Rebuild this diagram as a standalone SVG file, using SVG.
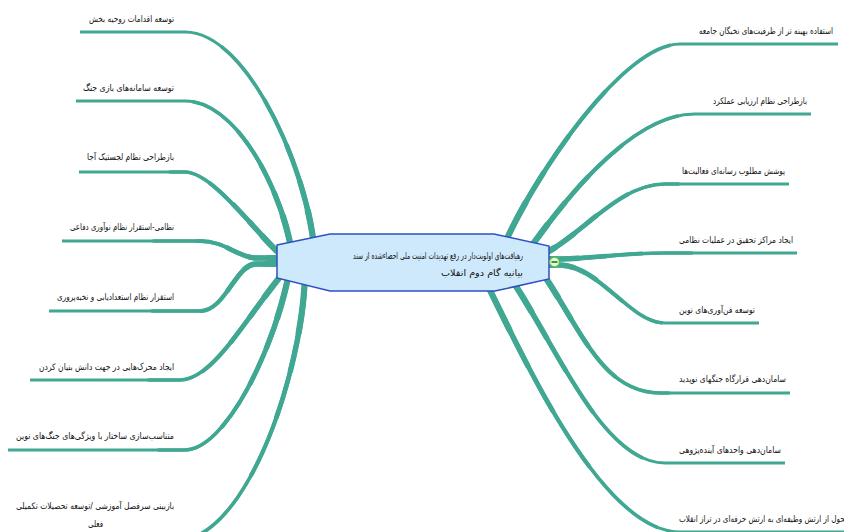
<svg xmlns="http://www.w3.org/2000/svg" xmlns:xlink="http://www.w3.org/1999/xlink" width="844" height="532" viewBox="0 0 844 532">
<style>
.br{fill:none;stroke:#40a892;stroke-linejoin:round}
.w1{stroke-width:3;stroke-linecap:butt}
.w2{stroke-width:3.6;stroke-dasharray:62 200;stroke-linecap:round}
.w3{stroke-width:4.2;stroke-dasharray:44 200;stroke-linecap:round}
.w4{stroke-width:4.8;stroke-dasharray:31 200;stroke-linecap:round}
.w5{stroke-width:5.4;stroke-dasharray:21 200;stroke-linecap:round}
.w6{stroke-width:6.2;stroke-dasharray:13 200;stroke-linecap:round}
.lbl{font-family:"DejaVu Sans",sans-serif;font-size:9px;fill:#111;text-anchor:end}
.ctxt{font-size:9.5px}
.ctr{fill:#cde9fb;stroke:#2f4fc4;stroke-width:1.5}
</style>
<defs>
<path id="pL1" class="br" pathLength="100" d="M315 260 C312 180 250 32 185 32 L80 32"/>
<path id="pL2" class="br" pathLength="100" d="M292 255 C285 200 240 101 185 101 L76 101"/>
<path id="pL3" class="br" pathLength="100" d="M285 258 C265 245 215 172 185 172 L79 172"/>
<path id="pL4" class="br" pathLength="100" d="M300 258 L255 258 C235 256 225 241 200 241 L62 241"/>
<path id="pL5" class="br" pathLength="100" d="M300 264 L255 264 C235 266 225 311 200 311 L49 311"/>
<path id="pL6" class="br" pathLength="100" d="M290 265 C250 310 215 380 180 380 L30 380"/>
<path id="pL7" class="br" pathLength="100" d="M290 268 C275 350 225 450 185 450 L8 450"/>
<path id="pL8" class="br" pathLength="100" d="M305 270 C305 360 250 541 175 541 L8 541"/>
<path id="pR1" class="br" pathLength="100" d="M500 255 C525 190 620 44 680 44 L838 44"/>
<path id="pR2" class="br" pathLength="100" d="M520 262 C540 235 620 114 695 114 L811 114"/>
<path id="pR3" class="br" pathLength="100" d="M520 262 C570 255 610 184 665 184 L789 184"/>
<path id="pR4" class="br" pathLength="100" d="M520 259 L560 259 C600 258 620 253 665 253 L797 253"/>
<path id="pR5" class="br" pathLength="100" d="M520 265 L560 265 C600 266 630 323 665 323 L759 323"/>
<path id="pR6" class="br" pathLength="100" d="M535 262 C580 325 600 393 660 393 L790 393"/>
<path id="pR7" class="br" pathLength="100" d="M505 270 C552 335 600 463 665 463 L785 463"/>
<path id="pR8" class="br" pathLength="100" d="M480 270 C520 350 600 532 680 532 L850 532"/>
</defs>
<g id="connectors">
<use xlink:href="#pL1" class="w1"/><use xlink:href="#pL1" class="w2"/><use xlink:href="#pL1" class="w3"/><use xlink:href="#pL1" class="w4"/><use xlink:href="#pL1" class="w5"/><use xlink:href="#pL1" class="w6"/>
<use xlink:href="#pL2" class="w1"/><use xlink:href="#pL2" class="w2"/><use xlink:href="#pL2" class="w3"/><use xlink:href="#pL2" class="w4"/><use xlink:href="#pL2" class="w5"/><use xlink:href="#pL2" class="w6"/>
<use xlink:href="#pL3" class="w1"/><use xlink:href="#pL3" class="w2"/><use xlink:href="#pL3" class="w3"/><use xlink:href="#pL3" class="w4"/><use xlink:href="#pL3" class="w5"/><use xlink:href="#pL3" class="w6"/>
<use xlink:href="#pL4" class="w1"/><use xlink:href="#pL4" class="w2"/><use xlink:href="#pL4" class="w3"/><use xlink:href="#pL4" class="w4"/><use xlink:href="#pL4" class="w5"/><use xlink:href="#pL4" class="w6"/>
<use xlink:href="#pL5" class="w1"/><use xlink:href="#pL5" class="w2"/><use xlink:href="#pL5" class="w3"/><use xlink:href="#pL5" class="w4"/><use xlink:href="#pL5" class="w5"/><use xlink:href="#pL5" class="w6"/>
<use xlink:href="#pL6" class="w1"/><use xlink:href="#pL6" class="w2"/><use xlink:href="#pL6" class="w3"/><use xlink:href="#pL6" class="w4"/><use xlink:href="#pL6" class="w5"/><use xlink:href="#pL6" class="w6"/>
<use xlink:href="#pL7" class="w1"/><use xlink:href="#pL7" class="w2"/><use xlink:href="#pL7" class="w3"/><use xlink:href="#pL7" class="w4"/><use xlink:href="#pL7" class="w5"/><use xlink:href="#pL7" class="w6"/>
<use xlink:href="#pL8" class="w1"/><use xlink:href="#pL8" class="w2"/><use xlink:href="#pL8" class="w3"/><use xlink:href="#pL8" class="w4"/><use xlink:href="#pL8" class="w5"/><use xlink:href="#pL8" class="w6"/>
<use xlink:href="#pR1" class="w1"/><use xlink:href="#pR1" class="w2"/><use xlink:href="#pR1" class="w3"/><use xlink:href="#pR1" class="w4"/><use xlink:href="#pR1" class="w5"/><use xlink:href="#pR1" class="w6"/>
<use xlink:href="#pR2" class="w1"/><use xlink:href="#pR2" class="w2"/><use xlink:href="#pR2" class="w3"/><use xlink:href="#pR2" class="w4"/><use xlink:href="#pR2" class="w5"/><use xlink:href="#pR2" class="w6"/>
<use xlink:href="#pR3" class="w1"/><use xlink:href="#pR3" class="w2"/><use xlink:href="#pR3" class="w3"/><use xlink:href="#pR3" class="w4"/><use xlink:href="#pR3" class="w5"/><use xlink:href="#pR3" class="w6"/>
<use xlink:href="#pR4" class="w1"/><use xlink:href="#pR4" class="w2"/><use xlink:href="#pR4" class="w3"/><use xlink:href="#pR4" class="w4"/><use xlink:href="#pR4" class="w5"/><use xlink:href="#pR4" class="w6"/>
<use xlink:href="#pR5" class="w1"/><use xlink:href="#pR5" class="w2"/><use xlink:href="#pR5" class="w3"/><use xlink:href="#pR5" class="w4"/><use xlink:href="#pR5" class="w5"/><use xlink:href="#pR5" class="w6"/>
<use xlink:href="#pR6" class="w1"/><use xlink:href="#pR6" class="w2"/><use xlink:href="#pR6" class="w3"/><use xlink:href="#pR6" class="w4"/><use xlink:href="#pR6" class="w5"/><use xlink:href="#pR6" class="w6"/>
<use xlink:href="#pR7" class="w1"/><use xlink:href="#pR7" class="w2"/><use xlink:href="#pR7" class="w3"/><use xlink:href="#pR7" class="w4"/><use xlink:href="#pR7" class="w5"/><use xlink:href="#pR7" class="w6"/>
<use xlink:href="#pR8" class="w1"/><use xlink:href="#pR8" class="w2"/><use xlink:href="#pR8" class="w3"/><use xlink:href="#pR8" class="w4"/><use xlink:href="#pR8" class="w5"/><use xlink:href="#pR8" class="w6"/>
</g>
<g id="center">
<polygon class="ctr" points="277,245 330,234 494,234 549,246 549,279 495,291 330,291 277,278"/>
<text class="lbl ctxt" x="523" y="258.5" textLength="170" lengthAdjust="spacingAndGlyphs">رهیافت‌های اولویت‌دار در رفع تهدیدات امنیت ملی احصاءشده از سند</text>
<text class="lbl ctxt" x="523" y="276" textLength="82" lengthAdjust="spacingAndGlyphs">بیانیه گام دوم انقلاب</text>
<circle cx="554.5" cy="262" r="5" fill="#e6f6df" stroke="#5cb84a" stroke-width="1.3"/>
<line x1="551.5" y1="262" x2="557.5" y2="262" stroke="#3b9a2e" stroke-width="2"/>
</g>
<g id="n-L1"><text class="lbl" x="174" y="21.5" textLength="85" lengthAdjust="spacingAndGlyphs">توسعه اقدامات روحیه بخش</text></g>
<g id="n-L2"><text class="lbl" x="174" y="90.5" textLength="91" lengthAdjust="spacingAndGlyphs">توسعه سامانه‌های بازی جنگ</text></g>
<g id="n-L3"><text class="lbl" x="174" y="160" textLength="87" lengthAdjust="spacingAndGlyphs">بازطراحی نظام لجستیک آجا</text></g>
<g id="n-L4"><text class="lbl" x="174" y="230" textLength="104" lengthAdjust="spacingAndGlyphs">نظامی-استقرار نظام نوآوری دفاعی</text></g>
<g id="n-L5"><text class="lbl" x="174" y="300" textLength="117" lengthAdjust="spacingAndGlyphs">استقرار نظام استعدادیابی و نخبه‌پروری</text></g>
<g id="n-L6"><text class="lbl" x="174" y="370" textLength="135" lengthAdjust="spacingAndGlyphs">ایجاد محرک‌هایی در جهت دانش بنیان کردن</text></g>
<g id="n-L7"><text class="lbl" x="174" y="439" textLength="158" lengthAdjust="spacingAndGlyphs">متناسب‌سازی ساختار با ویژگی‌های جنگ‌های نوین</text></g>
<g id="n-L8"><text class="lbl" x="174" y="509" textLength="158" lengthAdjust="spacingAndGlyphs">بازبینی سرفصل آموزشی /توسعه تحصیلات تکمیلی</text><text class="lbl" x="103" y="527" textLength="15" lengthAdjust="spacingAndGlyphs">فعلی</text></g>
<g id="n-R1"><text class="lbl" x="833" y="34" textLength="134" lengthAdjust="spacingAndGlyphs">استفاده بهینه تر از ظرفیت‌های نخبگان جامعه</text></g>
<g id="n-R2"><text class="lbl" x="807" y="104" textLength="94" lengthAdjust="spacingAndGlyphs">بازطراحی نظام ارزیابی عملکرد</text></g>
<g id="n-R3"><text class="lbl" x="785" y="174" textLength="103" lengthAdjust="spacingAndGlyphs">پوشش مطلوب رسانه‌ای فعالیت‌ها</text></g>
<g id="n-R4"><text class="lbl" x="793" y="242.5" textLength="114" lengthAdjust="spacingAndGlyphs">ایجاد مراکز تحقیق در عملیات نظامی</text></g>
<g id="n-R5"><text class="lbl" x="755" y="312.5" textLength="76" lengthAdjust="spacingAndGlyphs">توسعه فن‌آوری‌های نوین</text></g>
<g id="n-R6"><text class="lbl" x="786" y="381.5" textLength="107" lengthAdjust="spacingAndGlyphs">سامان‌دهی قرارگاه جنگهای نوپدید</text></g>
<g id="n-R7"><text class="lbl" x="781" y="452.5" textLength="102" lengthAdjust="spacingAndGlyphs">سامان‌دهی واحدهای آینده‌پژوهی</text></g>
<g id="n-R8"><text class="lbl" x="847" y="521.5" textLength="168" lengthAdjust="spacingAndGlyphs">تحول از ارتش وظیفه‌ای به ارتش حرفه‌ای در تراز انقلاب</text></g>
</svg>
